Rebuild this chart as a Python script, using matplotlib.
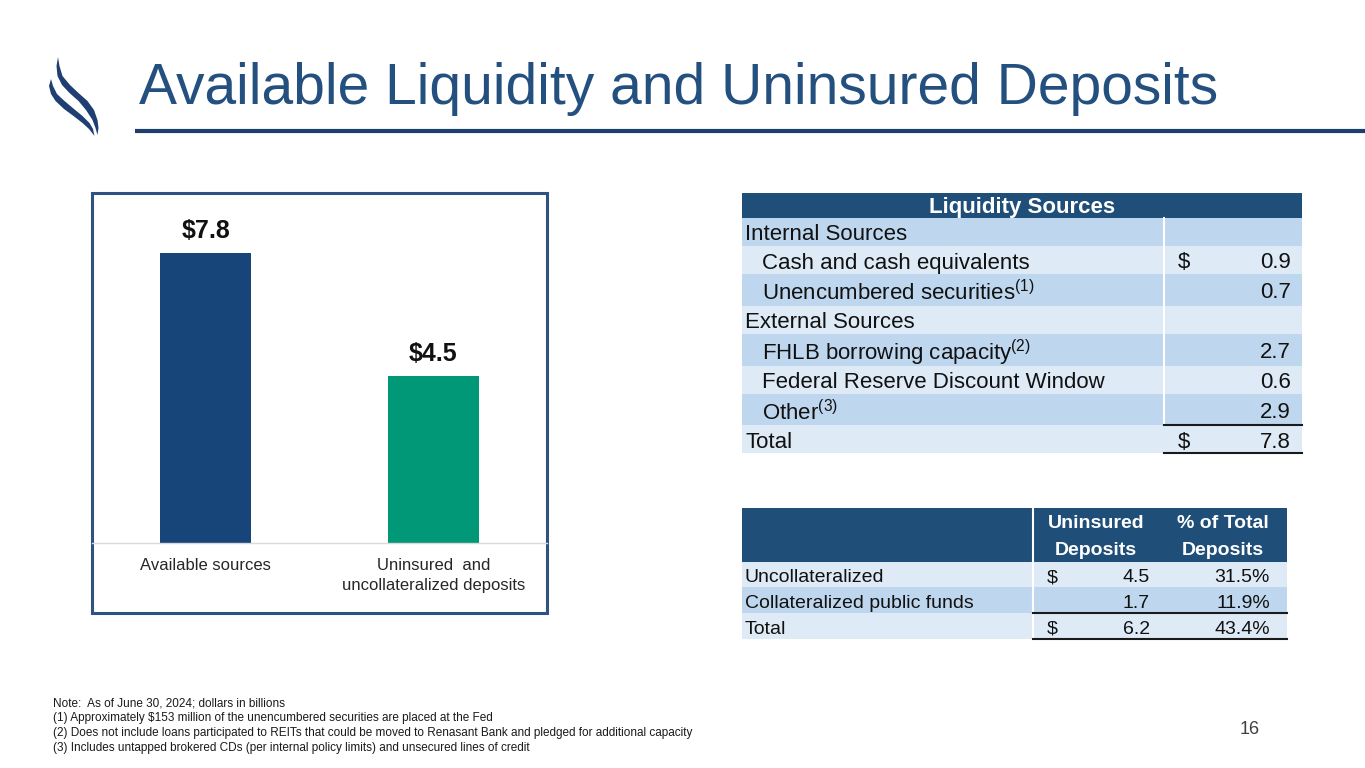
import matplotlib
matplotlib.use("Agg")
import matplotlib.pyplot as plt
from matplotlib import font_manager
from matplotlib.patches import Rectangle, Polygon

plt.rcParams["font.family"] = ["Liberation Sans", "DejaVu Sans"]
plt.rcParams["mathtext.fontset"] = "custom"
plt.rcParams["mathtext.rm"] = "Liberation Sans"

# --- data -------------------------------------------------------------
categories = ["Available sources", "Uninsured  and\nuncollateralized deposits"]
amounts = [7.8, 4.5]

liq_labels = ["Internal Sources", "Cash and cash equivalents",
              "Unencumbered securities$^{\\mathrm{(1)}}$", "External Sources",
              "FHLB borrowing capacity$^{\\mathrm{(2)}}$",
              "Federal Reserve Discount Window", "Other$^{\\mathrm{(3)}}$", "Total"]
liq_values = [None, 0.9, 0.7, None, 2.7, 0.6, 2.9, 7.8]
liq_dollar = [False, True, False, False, False, False, False, True]
liq_indent = [False, True, True, False, True, True, True, False]

dep_labels = ["Uncollateralized", "Collateralized public funds", "Total"]
dep_amounts = [4.5, 1.7, 6.2]
dep_pct = [31.5, 11.9, 43.4]
dep_dollar = [True, False, True]

footnotes = [
    "Note:  As of June 30, 2024; dollars in billions",
    "(1) Approximately $153 million of the unencumbered securities are placed at the Fed",
    "(2) Does not include loans participated to REITs that could be moved to Renasant Bank and pledged for additional capacity",
    "(3) Includes untapped brokered CDs (per internal policy limits) and unsecured lines of credit",
]

NAVY = "#1f4e79"
TITLE = "#24507f"
LIGHT = "#deeaf6"
MID = "#bfd7ee"

W, H = 1365, 768
fig = plt.figure(figsize=(W / 100, H / 100), dpi=100)

# page layer in pixel coordinates
page = fig.add_axes([0, 0, 1, 1])
page.set_xlim(0, W)
page.set_ylim(H, 0)
page.axis("off")

# title + rule
page.text(139, 104, "Available Liquidity and Uninsured Deposits", fontsize=41,
          color=TITLE, va="baseline", ha="left")
page.plot([135, W], [131, 131], color="#1f3d6d", lw=3, solid_capstyle="butt")


# logo: two thin swooshes, given as centre line + horizontal width
def swoosh(centre, widths):
    left = [(x - w / 2, y) for (x, y), w in zip(centre, widths)]
    right = [(x + w / 2, y) for (x, y), w in zip(centre, widths)]
    return Polygon(left + right[::-1], closed=True, fc="#1f3f73", ec="none")


page.add_patch(swoosh([(58, 57), (58, 66), (60, 76), (66, 85), (74, 93),
                       (83, 101), (90, 110), (95, 120), (97, 128), (97.5, 135)],
                      [0, 3, 5, 8, 9, 9, 8, 5, 3, 0]))
page.add_patch(swoosh([(51, 79), (51, 86), (54, 94), (60, 101), (69, 109),
                       (78, 116), (86, 123), (91, 129), (94.5, 136)],
                      [0, 4, 6, 9, 10, 9, 7, 4, 0]))

# --- bar chart ----------------------------------------------------------
box_l, box_r, box_t, box_b = 92, 547, 193, 613
base_y = 543
page.add_patch(Rectangle((box_l, box_t), box_r - box_l, box_b - box_t,
                         fill=False, ec="#2f5281", lw=2.2))

ax = fig.add_axes([box_l / W, (H - base_y) / H, (box_r - box_l) / W,
                   (base_y - box_t) / H])
ax.patch.set_alpha(0)
bars = ax.bar(range(len(amounts)), amounts, width=0.4,
              color=["#17457a", "#009877"])
ax.bar_label(bars, labels=[f"${v:.1f}" for v in amounts], padding=7,
             fontsize=18, fontweight="bold", color="#111111")
ax.set_xlim(-0.5, 1.5)
ax.set_ylim(0, 7.8 * (base_y - box_t) / 290)
ax.set_yticks([])
ax.set_xticks(range(len(categories)), categories, fontsize=12, color="#262626",
              linespacing=1.4)
ax.tick_params(axis="x", length=0, pad=11)
for s in ["top", "left", "right"]:
    ax.spines[s].set_visible(False)
ax.spines["bottom"].set_color("#d9d9d9")
ax.spines["bottom"].set_linewidth(1)

# --- liquidity sources table ------------------------------------------
t_l, t_r, t_sep = 742, 1302, 1164
row_edges = [218, 246, 274, 306, 334, 366, 394, 425, 453]
page.add_patch(Rectangle((t_l, 193), t_r - t_l, 218 - 193, fc=NAVY, ec="none"))
page.text((t_l + t_r) / 2, 208, "Liquidity Sources", fontsize=16, fontweight="bold",
          color="white", ha="center", va="center")
for i, lab in enumerate(liq_labels):
    y0, y1 = row_edges[i], row_edges[i + 1]
    page.add_patch(Rectangle((t_l, y0), t_r - t_l, y1 - y0,
                             fc=MID if i % 2 == 0 else LIGHT, ec="none"))
    yc = (y0 + y1) / 2 + 3
    page.text(762 if liq_indent[i] else 745, yc, lab, fontsize=16,
              color="#111111", va="center", ha="left")
    if liq_dollar[i]:
        page.text(1178, yc, "$", fontsize=16, color="#111111", va="center")
    if liq_values[i] is not None:
        page.text(1291, yc, f"{liq_values[i]:.1f}", fontsize=16, color="#111111",
                  va="center", ha="right")
page.plot([t_sep, t_sep], [218, 425], color="white", lw=1.5)
page.plot([t_sep, t_r], [425, 425], color="#1a1a1a", lw=1.5)
page.plot([t_sep, t_r], [453, 453], color="#1a1a1a", lw=1.5)

# --- uninsured deposits table -----------------------------------------
d_l, d_r, d_sep = 742, 1287, 1033
d_edges = [562, 587, 613, 639]
page.add_patch(Rectangle((d_l, 508), d_r - d_l, 562 - 508, fc=NAVY, ec="none"))
for x, txt in [(1096, "Uninsured\nDeposits"), (1223, "% of Total\nDeposits")]:
    page.text(x, 537, txt, fontsize=14, fontweight="bold", color="white",
              ha="center", va="center", linespacing=1.75)
for i, lab in enumerate(dep_labels):
    y0, y1 = d_edges[i], d_edges[i + 1]
    page.add_patch(Rectangle((d_l, y0), d_r - d_l, y1 - y0,
                             fc=MID if i % 2 else LIGHT, ec="none"))
    yc = (y0 + y1) / 2 + 3
    page.text(745, yc, lab, fontsize=14, color="#111111", va="center")
    if dep_dollar[i]:
        page.text(1047, yc, "$", fontsize=14, color="#111111", va="center")
    page.text(1150, yc, f"{dep_amounts[i]:.1f}", fontsize=14, color="#111111",
              va="center", ha="right")
    page.text(1270, yc, f"{dep_pct[i]:.1f}%", fontsize=14, color="#111111",
              va="center", ha="right")
page.plot([d_sep, d_sep], [508, 639], color="white", lw=1.5)
page.plot([d_sep, d_r], [613, 613], color="#1a1a1a", lw=1.5)
page.plot([d_sep, d_r], [639, 639], color="#1a1a1a", lw=1.5)

# --- footnotes and page number -----------------------------------------
try:
    font_manager.findfont("Liberation Sans Narrow", fallback_to_default=False)
    note_font, note_size = ["Liberation Sans Narrow"], 9.75
except ValueError:
    note_font, note_size = ["Liberation Sans"], 8.5
for k, line in enumerate(footnotes):
    page.text(53, 703 + 15 * k, line, fontsize=note_size, family=note_font,
              color="#1a1a1a", va="center", ha="left")
page.text(1260, 730, "16", fontsize=13, color="#404040", ha="right", va="center")

fig.savefig("out.png", dpi=100)
